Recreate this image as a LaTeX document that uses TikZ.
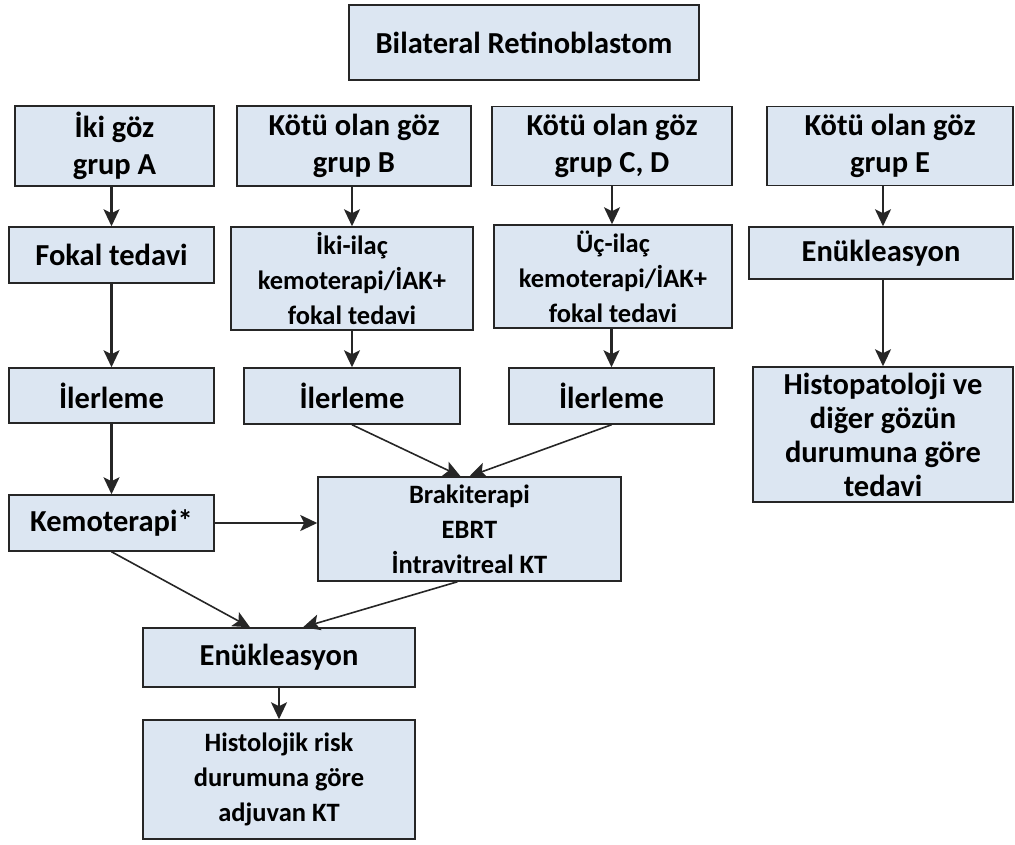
\documentclass[tikz,border=0pt]{standalone}
\usepackage{fontspec}
\setmainfont{Carlito}
\usetikzlibrary{math,arrows.meta}
\definecolor{kutumavi}{HTML}{DCE6F2}
\tikzset{
  kutu/.style={draw=black!85, line width=1.5pt, fill=kutumavi, align=center, inner sep=0pt,
    font=\bfseries\fontsize{30.5}{37}\selectfont},
  kucuk/.style={font=\bfseries\fontsize{26.5}{35}\selectfont},
  ok/.style={draw=black!85, line width=2.2pt, -{Stealth[length=17pt,width=16pt,inset=4pt]}},
  inceok/.style={ok, line width=1.6pt}
}

\begin{document}
\begin{tikzpicture}[x=1pt, y=-1pt]
            \tikzmath{\xA = 111.5; \xB = 352; \xC = 612; \xE = 883;}
            \useasboundingbox (0,0) rectangle (1015,845);

            \node[kutu, minimum width=350, minimum height=75] (BR) at (524,42.5) {Bilateral Retinoblastom};

            \node[kutu, minimum width=199, minimum height=80] (GA) at (114.5,146) {İki göz\\grup A};
            \node[kutu, minimum width=234, minimum height=80] (GB) at (354,146) {Kötü olan göz\\grup B};
            \node[kutu, minimum width=240, minimum height=79] (GC) at (\xC,146) {Kötü olan göz\\grup C, D};
            \node[kutu, minimum width=246, minimum height=79] (GE) at (890,146) {Kötü olan göz\\grup E};

            \node[kutu, minimum width=205, minimum height=56] (FA) at (\xA,255) {Fokal tedavi};
            \node[kutu, kucuk, minimum width=242, minimum height=103] (FB) at (\xB,278.5) {İki-ilaç\\kemoterapi/İAK+\\fokal tedavi};
            \node[kutu, kucuk, minimum width=238, minimum height=103] (FC) at (613,276.5) {Üç-ilaç\\kemoterapi/İAK+\\fokal tedavi};
            \node[kutu, minimum width=264, minimum height=52] (EE) at (881,253) {Enükleasyon};

            \node[kutu, minimum width=205, minimum height=55] (IA) at (\xA,395.5) {İlerleme};
            \node[kutu, minimum width=216, minimum height=56] (IB) at (\xB,396) {İlerleme};
            \node[kutu, minimum width=205, minimum height=56] (IC) at (611.5,396) {İlerleme};
            \node[kutu, minimum width=260, minimum height=135, font=\bfseries\fontsize{30.5}{34}\selectfont] (HE) at (\xE,434.5) {Histopatoloji ve\\diğer gözün\\durumuna göre\\tedavi};

            \node[kutu, minimum width=205, minimum height=56] (KA) at (\xA,523) {Kemoterapi*};
            \node[kutu, kucuk, minimum width=303, minimum height=104] (BT) at (469.5,529) {Brakiterapi\\EBRT\\İntravitreal KT};

            \node[kutu, minimum width=272, minimum height=59] (EN) at (279,657.5) {Enükleasyon};
            \node[kutu, kucuk, minimum width=272, minimum height=119] (HR) at (279,779.5) {Histolojik risk\\durumuna göre\\adjuvan KT};

            % dikey oklar
            \draw[ok] (GA.south -| FA) -- (FA);
            \draw[ok] (FA) -- (IA);
            \draw[ok] (IA) -- (KA);
            \draw[ok] (GB.south -| FB) -- (FB);
            \draw[ok] (FB) -- (IB);
            \draw[ok] (GC) -- (GC |- FC.north);
            \draw[ok] (FC.south -| IC) -- (IC);
            \draw[ok] (GE.south -| HE) -- (HE |- EE.north);
            \draw[ok] (EE.south -| HE) -- (HE);
            \draw[ok] (EN) -- (HR);

            \draw[ok] (KA.east) -- (KA.east -| BT.west);
            \draw[inceok] (IB.south) -- ([xshift=-9pt]BT.north);
            \draw[inceok] (IC.south) -- ([xshift=0pt]BT.north);
            \draw[inceok] (KA.south) -- ([xshift=-29pt]EN.north);
            \draw[inceok] ([xshift=-12pt]BT.south) -- ([xshift=24pt]EN.north);
\end{tikzpicture}
\end{document}
